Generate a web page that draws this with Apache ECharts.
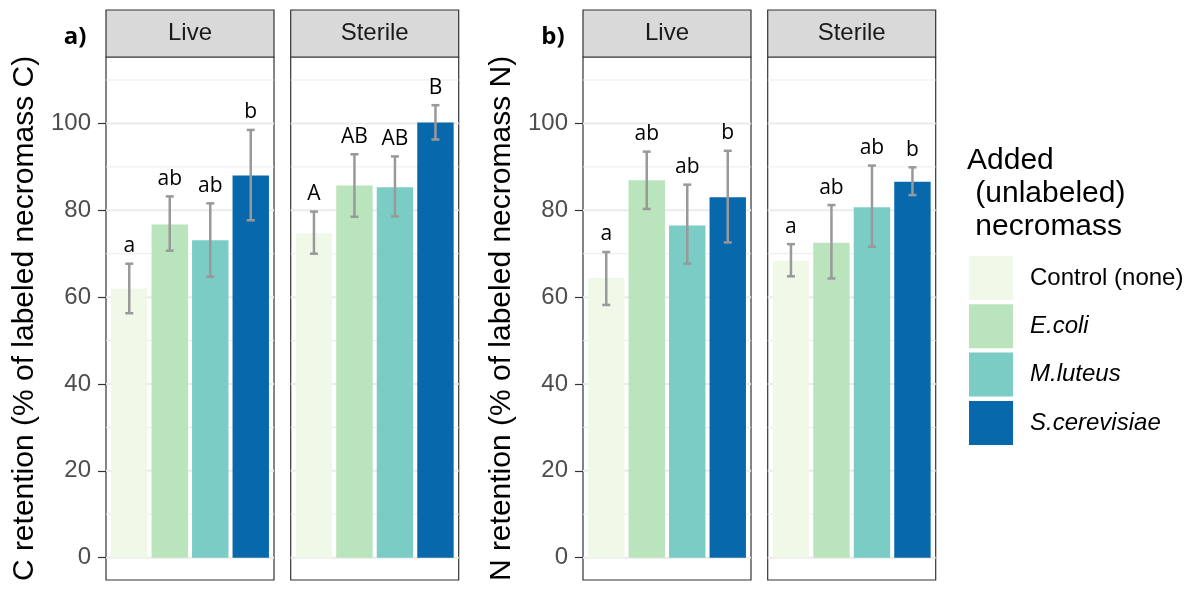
<!DOCTYPE html>
<html>
<head>
<meta charset="utf-8">
<script src="https://cdn.jsdelivr.net/npm/echarts@6/dist/echarts.min.js"></script>
<style>
  html, body { margin: 0; padding: 0; background: #fff; }
  #chart { width: 1196px; height: 592px; }
</style>
</head>
<body>
<div id="chart"></div>
<script>
// treatments (legend order) and facets
const categories = ['Control (none)', 'E.coli', 'M.luteus', 'S.cerevisiae'];
const facets = ['Live', 'Sterile'];
const colors = ['#f0f9e8', '#bae4bc', '#7bccc4', '#0868ac'];

// C retention, % of labeled necromass C
const cLiveMean = [62.0, 76.7, 73.1, 88.0];
const cLiveLow = [56.3, 70.7, 64.7, 77.7];
const cLiveHigh = [67.7, 83.2, 81.6, 98.5];
const cLiveLetters = ['a', 'ab', 'ab', 'b'];
const cSterileMean = [74.7, 85.7, 85.3, 100.2];
const cSterileLow = [70.0, 78.5, 78.6, 96.3];
const cSterileHigh = [79.7, 92.9, 92.4, 104.2];
const cSterileLetters = ['A', 'AB', 'AB', 'B'];

// N retention, % of labeled necromass N
const nLiveMean = [64.4, 86.9, 76.5, 83.0];
const nLiveLow = [58.2, 80.3, 67.7, 72.6];
const nLiveHigh = [70.4, 93.5, 85.9, 93.7];
const nLiveLetters = ['a', 'ab', 'ab', 'b'];
const nSterileMean = [68.4, 72.5, 80.7, 86.6];
const nSterileLow = [64.8, 64.3, 71.6, 83.5];
const nSterileHigh = [72.2, 81.2, 90.3, 89.9];
const nSterileLetters = ['a', 'ab', 'ab', 'b'];

const yTicks = [0, 20, 40, 60, 80, 100];
const gridValues = [0, 10, 20, 30, 40, 50, 60, 70, 80, 90, 100, 110];
const yTitles = ['C retention (% of labeled necromass C)', 'N retention (% of labeled necromass N)'];
const panelTags = ['a)', 'b)'];

const panels = [
  { mean: cLiveMean, low: cLiveLow, high: cLiveHigh, letters: cLiveLetters },
  { mean: cSterileMean, low: cSterileLow, high: cSterileHigh, letters: cSterileLetters },
  { mean: nLiveMean, low: nLiveLow, high: nLiveHigh, letters: nLiveLetters },
  { mean: nSterileMean, low: nSterileLow, high: nSterileHigh, letters: nSterileLetters },
];

// layout
const panelLefts = [106, 290.7, 583, 767.7];
const panelWidth = 168;
const panelTop = 57;
const panelHeight = 523;
const stripTop = 10;
const frameColor = '#333333';
const sans = 'Liberation Sans';

const chart = echarts.init(document.getElementById('chart'));

const grids = [];
const xAxes = [];
const yAxes = [];
const series = [];
const graphics = [];

panels.forEach((p, g) => {
  const isLive = g % 2 === 0;
  grids.push({
    left: panelLefts[g], top: panelTop, width: panelWidth, height: panelHeight,
    show: true, borderColor: frameColor, borderWidth: 1.2, backgroundColor: '#fff',
  });
  xAxes.push({ gridIndex: g, type: 'value', min: 0.426, max: 4.574, show: false });
  yAxes.push({
    gridIndex: g, type: 'value', min: -5.14, max: 115.3,
    axisLine: { show: false },
    splitLine: { show: false },
    axisTick: { show: isLive, length: 8, customValues: yTicks, lineStyle: { color: frameColor, width: 1.2 } },
    axisLabel: {
      show: isLive, customValues: yTicks, margin: 15,
      fontSize: 24, color: '#4d4d4d', fontFamily: sans,
    },
    name: isLive ? yTitles[g / 2] : '',
    nameLocation: 'middle', nameGap: 66,
    nameTextStyle: { fontSize: 30, color: '#000', fontFamily: sans },
  });

  // panel grid lines (major every 20, minor in between)
  series.push({
    type: 'custom', xAxisIndex: g, yAxisIndex: g, z: 1, silent: true,
    data: gridValues.map(v => [0, v]),
    renderItem: (params, api) => {
      const y = api.coord([1, api.value(1)])[1];
      const major = api.value(1) % 20 === 0;
      return {
        type: 'line',
        shape: { x1: params.coordSys.x, y1: y, x2: params.coordSys.x + params.coordSys.width, y2: y },
        style: { stroke: '#ebebeb', lineWidth: major ? 2 : 1 },
      };
    },
  });

  categories.forEach((name, i) => {
    series.push({
      type: 'bar', name, xAxisIndex: g, yAxisIndex: g, z: 2,
      barWidth: 36.4, barGap: '-100%',
      itemStyle: { color: colors[i] },
      data: [[i + 1, p.mean[i]]],
    });
  });

  series.push({
    type: 'custom', xAxisIndex: g, yAxisIndex: g, z: 3, clip: false,
    data: p.mean.map((m, i) => [i + 1, p.low[i], p.high[i]]),
    renderItem: (params, api) => {
      const x = api.value(0);
      const lo = api.coord([x, api.value(1)]);
      const hi = api.coord([x, api.value(2)]);
      const cap = 4;
      const style = { stroke: '#999999', lineWidth: 2.5 };
      return {
        type: 'group',
        children: [
          { type: 'line', shape: { x1: lo[0], y1: lo[1], x2: hi[0], y2: hi[1] }, style },
          { type: 'line', shape: { x1: lo[0] - cap, y1: lo[1], x2: lo[0] + cap, y2: lo[1] }, style },
          { type: 'line', shape: { x1: hi[0] - cap, y1: hi[1], x2: hi[0] + cap, y2: hi[1] }, style },
          {
            type: 'text',
            style: {
              text: p.letters[params.dataIndex], x: hi[0], y: hi[1] - 7,
              align: 'center', verticalAlign: 'bottom',
              fontSize: 21, fontWeight: 500, fontFamily: 'Open Sans', fill: '#000',
            },
          },
        ],
      };
    },
  });

  // facet strip
  graphics.push({
    type: 'rect', z: 10,
    shape: { x: panelLefts[g], y: stripTop, width: panelWidth, height: panelTop - stripTop },
    style: { fill: '#d9d9d9', stroke: frameColor, lineWidth: 1.2 },
  });
  graphics.push({
    type: 'text', z: 11,
    x: panelLefts[g] + panelWidth / 2, y: (stripTop + panelTop) / 2,
    style: {
      text: facets[g % 2], fontSize: 24, fontFamily: sans, fill: '#1a1a1a',
      align: 'center', verticalAlign: 'middle',
    },
  });
});

panelTags.forEach((tag, k) => {
  graphics.push({
    type: 'text', z: 11, x: [75, 553][k], y: 37,
    style: {
      text: tag, fontSize: 24, fontWeight: 'bold', fontFamily: 'Open Sans', fill: '#000',
      align: 'center', verticalAlign: 'middle',
    },
  });
});

graphics.push({
  type: 'text', z: 11, x: 967, y: 144,
  style: {
    text: 'Added\n (unlabeled)\n necromass', fontSize: 30, lineHeight: 33,
    fontFamily: sans, fill: '#000', align: 'left', verticalAlign: 'top',
  },
});

chart.setOption({
  animation: false,
  grid: grids,
  xAxis: xAxes,
  yAxis: yAxes,
  series,
  graphic: graphics,
  legend: {
    data: categories,
    orient: 'vertical', left: 964, top: 251,
    itemWidth: 44, itemHeight: 44, itemGap: 4.3,
    icon: 'rect',
    formatter: name => (name === categories[0] ? '{n|' + name + '}' : '{i|' + name + '}'),
    textStyle: {
      fontSize: 24, fontFamily: sans, color: '#000',
      rich: {
        n: { fontSize: 24, fontFamily: sans, padding: [0, 0, 0, 12] },
        i: { fontSize: 24, fontFamily: sans, fontStyle: 'italic', padding: [0, 0, 0, 12] },
      },
    },
  },
});
</script>
</body>
</html>
